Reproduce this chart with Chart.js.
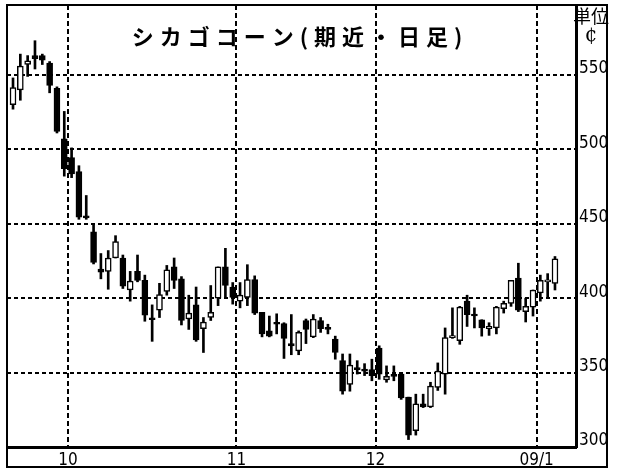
<!DOCTYPE html>
<html>
<head>
<meta charset="utf-8">
<script src="https://cdn.jsdelivr.net/npm/chart.js@4.4.1/dist/chart.umd.min.js"></script>
<style>
  html, body { margin: 0; padding: 0; background: #fff; }
  #wrap { width: 618px; height: 469px; }
</style>
</head>
<body>
<div id="wrap"><canvas id="chart" width="618" height="469"></canvas></div>
<script>
// trading days, 2008-09-19 .. 2009-01-06
var dates = [
    '2008-09-19', '2008-09-22', '2008-09-23', '2008-09-24', '2008-09-25', '2008-09-26', '2008-09-29', '2008-09-30',
    '2008-10-01', '2008-10-02', '2008-10-03', '2008-10-06', '2008-10-07', '2008-10-08', '2008-10-09', '2008-10-10',
    '2008-10-13', '2008-10-14', '2008-10-15', '2008-10-16', '2008-10-17', '2008-10-20', '2008-10-21', '2008-10-22',
    '2008-10-23', '2008-10-24', '2008-10-27', '2008-10-28', '2008-10-29', '2008-10-30', '2008-10-31',
    '2008-11-03', '2008-11-04', '2008-11-05', '2008-11-06', '2008-11-07', '2008-11-10', '2008-11-11', '2008-11-12',
    '2008-11-13', '2008-11-14', '2008-11-17', '2008-11-18', '2008-11-19', '2008-11-20', '2008-11-21', '2008-11-24',
    '2008-11-25', '2008-11-26', '2008-11-28',
    '2008-12-01', '2008-12-02', '2008-12-03', '2008-12-04', '2008-12-05', '2008-12-08', '2008-12-09', '2008-12-10',
    '2008-12-11', '2008-12-12', '2008-12-15', '2008-12-16', '2008-12-17', '2008-12-18', '2008-12-19', '2008-12-22',
    '2008-12-23', '2008-12-24', '2008-12-26', '2008-12-29', '2008-12-30', '2008-12-31',
    '2009-01-02', '2009-01-05', '2009-01-06'
];

var opens = [
    530, 540, 557, 563, 563, 558, 541, 507,
    494.5, 485, 454.5, 444.5, 419.5, 418, 427, 427, 405.5, 418, 412, 386, 392, 404.5, 421, 413, 386, 395.5, 379.5, 387, 400, 421, 407.5,
    398, 400.5, 412.5, 390.5, 378, 383.5, 383, 369.5, 364.5, 385, 374, 385, 379.5, 372.5, 358, 342, 352.5, 352, 352,
    366.5, 345, 348, 349, 333.5, 311, 329, 327, 340, 349, 373.5, 371.5, 398, 389, 385.5, 379.5, 380, 393, 396.5, 413.5, 391, 394,
    403.5, 411, 410
];
var highs = [
    548, 564, 563, 573, 564, 559, 542, 525.5,
    501, 489, 469, 449, 430, 432, 442, 429, 418, 429, 415.5, 395.5, 410, 422, 427, 414.5, 402, 407.5, 387, 408.5, 421, 433.5, 410.5,
    410.5, 422.5, 415, 390.5, 388, 389.5, 383.5, 389, 378, 386, 389, 387, 382.5, 374.5, 362.5, 362.5, 358, 356, 359,
    368, 354.5, 354.5, 350, 333.5, 335.5, 335.5, 343.5, 356.5, 380, 393.5, 394.5, 402, 393.5, 385.5, 383.5, 394.5, 398, 412, 423.5, 400, 405.5,
    415.5, 416.5, 428
];
var lows = [
    527, 533, 549, 554, 557, 538, 511, 482,
    481, 453, 453, 423, 413, 406, 427, 406.5, 398, 411, 384.5, 371, 387, 402, 406.5, 382, 379, 371, 363.5, 385, 395, 400.5, 396,
    393.5, 395, 389, 374, 374, 376, 359.5, 362, 362, 369.5, 373.5, 377, 376, 359, 335.5, 337.5, 349, 348, 344.5,
    345.5, 343.5, 344.5, 332, 305, 308, 326.5, 326.5, 338, 335.5, 373, 369, 381, 380, 374.5, 375, 376, 390, 394.5, 391, 384, 388,
    398, 400, 405.5
];
var closes = [
    541.5, 556, 559.5, 561, 560, 543, 512, 487,
    483.5, 454.5, 454, 424, 417.5, 427, 438, 408, 411.5, 412, 388.5, 385.5, 402.5, 419, 412, 385, 390, 372, 384, 390.5, 421, 408.5, 400.5,
    402, 412.5, 390, 376, 374.5, 382.5, 373, 368, 377, 379, 386, 379.5, 379, 363.5, 337.5, 355, 352, 351, 348,
    349, 347.5, 347.5, 333, 308, 329, 327, 341, 351, 373.5, 374.5, 394, 389, 388, 380, 381, 394, 396.5, 412, 392, 394.5, 405.5,
    412, 412, 426.5
];

var yTicks = [300, 350, 400, 450, 500, 550];
var monthLabels = ['10', '11', '12', '09/1'];
var titleText = 'シカゴコーン(期近・日足)';
var unitLines = ['単位', '¢'];

var labelFont = '"Liberation Sans Narrow", "DejaVu Sans Condensed", "DejaVu Sans", sans-serif';

// month boundaries sit half way between the last and first trading day
var monthEdges = [];
for (var i = 1; i < dates.length; i++) {
    if (dates[i].substr(5, 2) !== dates[i - 1].substr(5, 2)) {
        monthEdges.push(i - 0.5);
    }
}

var wicks = dates.map(function(d, i) { return { x: i, y: [lows[i], highs[i]] }; });
var bodies = dates.map(function(d, i) { return { x: i, y: [opens[i], closes[i]] }; });

var framePlugin = {
    id: 'frame',
    beforeDraw: function(chart) {
        var ctx = chart.ctx;
        ctx.save();
        ctx.fillStyle = '#fff';
        ctx.fillRect(0, 0, chart.width, chart.height);
        ctx.restore();
    },
    afterDraw: function(chart) {
        var ctx = chart.ctx;
        var a = chart.chartArea;
        var right = chart.width - 11;
        var bottom = chart.height - 2;
        ctx.save();
        ctx.strokeStyle = '#000';
        ctx.lineWidth = 2;
        ctx.strokeRect(a.left, a.top, right - a.left, bottom - a.top);

        // title, drawn over the plot
        ctx.fillStyle = '#000';
        ctx.font = 'bold 22px "Noto Sans CJK JP"';
        ctx.textAlign = 'center';
        ctx.textBaseline = 'middle';
        if ('letterSpacing' in ctx) ctx.letterSpacing = '6px';
        ctx.fillText(titleText, 300, 37);
        if ('letterSpacing' in ctx) ctx.letterSpacing = '0px';

        // unit
        ctx.font = '18px "Noto Sans CJK JP"';
        ctx.fillText(unitLines[0], 591, 16);
        ctx.font = '20px "DejaVu Serif"';
        ctx.fillText(unitLines[1], 591, 36);
        ctx.restore();
    }
};

new Chart(document.getElementById('chart'), {
    type: 'bar',
    data: {
        datasets: [
            {
                label: 'body',
                data: bodies,
                order: 0,
                grouped: false,
                barThickness: 6,
                minBarLength: 2,
                borderWidth: 1.5,
                borderSkipped: false,
                borderColor: '#000',
                backgroundColor: function(c) {
                    var i = c.dataIndex;
                    return closes[i] > opens[i] ? '#fff' : '#000';
                }
            },
            {
                label: 'wick',
                data: wicks,
                order: 1,
                grouped: false,
                barThickness: 2,
                borderWidth: 0,
                backgroundColor: '#000'
            }
        ]
    },
    options: {
        responsive: false,
        animation: false,
        events: [],
        layout: { padding: { left: 7, top: 5, right: 0, bottom: 0 } },
        plugins: {
            legend: { display: false },
            tooltip: { enabled: false },
            title: { display: false }
        },
        scales: {
            x: {
                type: 'linear',
                offset: false,
                min: -0.82,
                max: dates.length - 1 + 2.87,
                afterBuildTicks: function(scale) {
                    scale.ticks = monthEdges.map(function(v) { return { value: v }; });
                },
                afterFit: function(scale) {
                    scale.height = 22;
                    scale.paddingLeft = 0;
                    scale.paddingRight = 0;
                },
                ticks: {
                    autoSkip: false,
                    maxRotation: 0,
                    padding: 3,
                    color: '#000',
                    font: { family: labelFont, size: 17 },
                    callback: function(v, idx) { return monthLabels[idx]; }
                },
                grid: { offset: false, color: '#000', lineWidth: 2, drawTicks: false },
                border: { display: true, color: '#000', width: 3, dash: [5, 3] }
            },
            y: {
                position: 'right',
                min: 300,
                max: 597,
                afterBuildTicks: function(scale) {
                    scale.ticks = yTicks.map(function(v) { return { value: v }; });
                },
                afterFit: function(scale) {
                    scale.width = 42;
                    scale.paddingTop = 0;
                    scale.paddingBottom = 0;
                },
                ticks: {
                    padding: 3,
                    labelOffset: -6,
                    color: '#000',
                    font: { family: labelFont, size: 17 },
                    callback: function(v) { return v; }
                },
                grid: { color: '#000', lineWidth: 2, drawTicks: false },
                border: { display: true, color: '#000', width: 3, dash: [4, 3] }
            }
        }
    },
    plugins: [framePlugin]
});
</script>
</body>
</html>
